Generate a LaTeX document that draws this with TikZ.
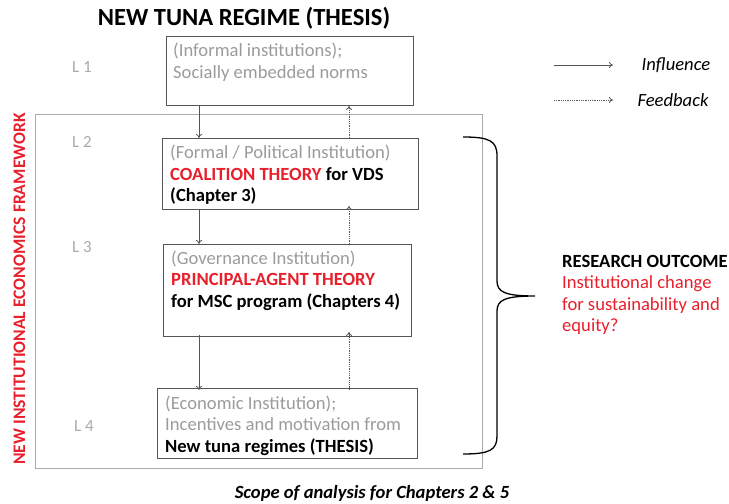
\documentclass[tikz,border=0pt]{standalone}
\usepackage{fontspec}
\setmainfont{Carlito}
\usetikzlibrary{arrows.meta}
\definecolor{hotred}{RGB}{232,32,44}
\definecolor{softgray}{RGB}{155,155,155}
\definecolor{linegray}{RGB}{85,85,85}
\definecolor{framegray}{RGB}{170,170,170}
\tikzset{
  levelbox/.style={draw=linegray, line width=0.9bp, inner sep=0, anchor=north west},
  boxtext/.style={anchor=north west, inner sep=0, align=left,
    font=\fontsize{18.6bp}{21.5bp}\selectfont, text=black},
  lvl/.style={text=framegray, font=\fontsize{17bp}{20bp}\selectfont, inner sep=0},
  infl/.style={draw=linegray, line width=0.8bp, -{To[length=4bp,width=6bp]}},
  feed/.style={draw=linegray, line width=0.8bp, densely dotted, -{To[length=4bp,width=6bp]}},
}
\begin{document}
\begin{tikzpicture}[x=1bp, y=-1bp]
\useasboundingbox (0,0) rectangle (729,504);

% title
\node[font=\fontsize{24.6bp}{28bp}\selectfont\bfseries, inner sep=0] (title) at (244,18) {NEW TUNA REGIME (THESIS)};

% framework frame and its rotated caption
\node[draw=framegray, line width=0.9bp, minimum width=447bp, minimum height=354bp, inner sep=0, anchor=north west] (frame) at (35,114) {};
\node[rotate=90, text=hotred, font=\fontsize{17.6bp}{20bp}\selectfont\bfseries, inner sep=0] (nie) at (19.5,289) {NEW INSTITUTIONAL ECONOMICS FRAMEWORK};

% level boxes
\node[levelbox, minimum width=247bp, minimum height=69bp] (b1) at (166,36) {};
\node[levelbox, minimum width=256bp, minimum height=71bp] (b2) at (162,138) {};
\node[levelbox, minimum width=248bp, minimum height=92bp] (b3) at (163,244) {};
\node[levelbox, minimum width=260bp, minimum height=70bp] (b4) at (157,388) {};

\node[boxtext] (t1) at ([xshift=7bp,yshift=-7bp]b1.north west)
  {\textcolor{softgray}{(Informal institutions);}\\ \textcolor{softgray}{Socially embedded norms}};
\node[boxtext] (t2) at ([xshift=8bp,yshift=-7bp]b2.north west)
  {\textcolor{softgray}{(Formal / Political Institution)}\\
   \textbf{\textcolor{hotred}{COALITION THEORY} for VDS}\\ \textbf{(Chapter 3)}};
\node[boxtext] (t3) at ([xshift=8bp,yshift=-6.5bp]b3.north west)
  {\textcolor{softgray}{(Governance Institution)}\\
   \textbf{\textcolor{hotred}{PRINCIPAL-AGENT THEORY}}\\ \textbf{for MSC program (Chapters 4)}};
\node[boxtext] (t4) at ([xshift=8bp,yshift=-7.5bp]b4.north west)
  {\textcolor{softgray}{(Economic Institution);}\\ \textcolor{softgray}{Incentives and motivation from}\\
   \textbf{New tuna regimes (THESIS)}};

% level labels
\node[lvl] (l1) at (82,67) {L 1};
\node[lvl] (l2) at (82,142) {L 2};
\node[lvl] (l3) at (82,247) {L 3};
\node[lvl] (l4) at (84,426) {L 4};

% columns for the connectors
\coordinate (down) at (199,0);
\coordinate (up) at (349,0);

% influence downwards, feedback upwards
\draw[infl] (b1.south -| down) -- (b2.north -| down);
\draw[infl] (b2.south -| down) -- (b3.north -| down);
\draw[infl] ([yshift=2bp]b3.south -| down) -- ([yshift=-2bp]b4.north -| down);
\draw[feed] (b2.north -| up) -- (b1.south -| up);
\draw[feed] (b3.north -| up) -- ([yshift=4bp]b2.south -| up);
\draw[feed] ([yshift=-2bp]b4.north -| up) -- ([yshift=5bp]b3.south -| up);

% legend
\coordinate (la) at (554,65);
\coordinate (lb) at (613,65);
\coordinate (lc) at (554,100);
\coordinate (ld) at (613,100);
\draw[infl] (la) -- (lb);
\draw[feed] (lc) -- (ld);
\node[font=\fontsize{18.6bp}{21bp}\selectfont\itshape, inner sep=0] (leg1) at (676,65) {Influence};
\node[font=\fontsize{18.6bp}{21bp}\selectfont\itshape, inner sep=0] (leg2) at (673,100) {Feedback};

% brace gathering levels 2 to 4
\coordinate (btop) at (463,137);
\coordinate (btip) at (535,296);
\coordinate (bbot) at (463,454);
\draw[line width=1.3bp, black] (btop) .. controls (490,137) and (497,141) .. (497,156)
  -- (497,281) .. controls (497,292) and (505,296) .. (btip)
  .. controls (505,296) and (497,300) .. (497,311)
  -- (497,436) .. controls (497,450) and (490,454) .. (bbot);

% research outcome
\node[anchor=west, align=left, inner sep=0, font=\fontsize{18.6bp}{21.5bp}\selectfont] (outcome) at (562,295)
  {\textbf{RESEARCH OUTCOME}\\ \textcolor{hotred}{Institutional change}\\
   \textcolor{hotred}{for sustainability and}\\ \textcolor{hotred}{equity?}};

% scope caption
\node[font=\fontsize{18.6bp}{21bp}\selectfont\bfseries\itshape, inner sep=0] (scope) at (372,493) {Scope of analysis for Chapters 2 \& 5};
\end{tikzpicture}
\end{document}
